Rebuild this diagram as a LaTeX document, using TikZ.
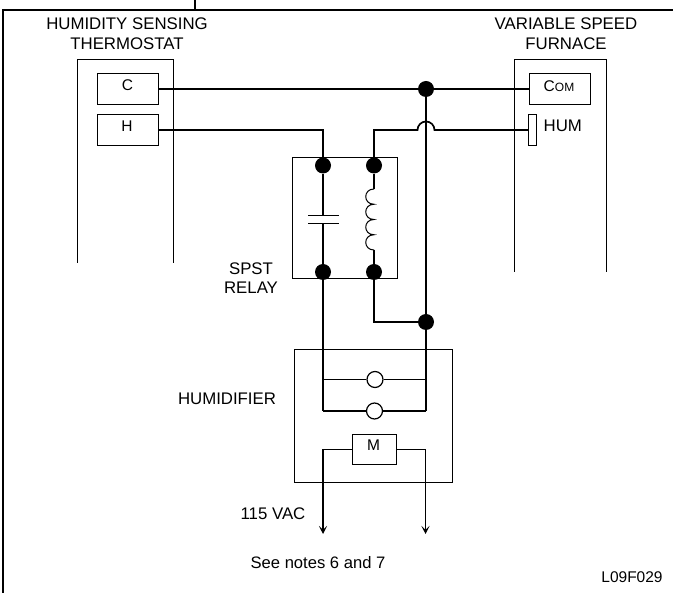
\documentclass[tikz,border=0pt]{standalone}
\usepackage{fontspec}
\setmainfont{Liberation Sans}
\usetikzlibrary{arrows.meta}

\tikzstyle{unit} = [draw, line width=1pt]
\tikzstyle{term} = [draw, rectangle, line width=1pt, inner sep=0pt, text depth=0pt]
\tikzstyle{dot} = [circle, fill=black, inner sep=0pt, minimum size=16pt]
\tikzstyle{lamp} = [circle, draw, fill=white, line width=1.2pt, inner sep=0pt, minimum size=16pt]
\tikzstyle{wire} = [draw, line width=1.7pt]
\tikzstyle{stub} = [draw, line width=1.3pt]
\tikzstyle{feed} = [draw, line width=1.5pt, -{Stealth[length=8pt, width=8pt, inset=4pt]}]
\tikzstyle{lbl} = [font=\fontsize{16.8pt}{19.7pt}\selectfont, align=center, inner sep=0pt]
\tikzstyle{small} = [font=\fontsize{15.5pt}{18pt}\selectfont, inner sep=0pt]

\begin{document}
\begin{tikzpicture}[x=1pt, y=-1pt, node distance=51pt]
    \useasboundingbox (0,0) rectangle (673,593);
    % Frame
    \draw [line width=2.6pt] (3,593) -- (3,10) -- (673,10);
    \draw [line width=1.6pt] (195,0) -- (195,10);
    % Housings
    \draw [unit] (77,263) -- (77,59.5) -- (173.5,59.5) -- (173.5,263);
    \draw [unit] (514,272) -- (514,59.5) -- (606,59.5) -- (606,272);
    \node [lbl] (stat) at (127,34) {HUMIDITY SENSING\\THERMOSTAT};
    \node [lbl] (furn) at (566,34) {VARIABLE SPEED\\FURNACE};
    % Terminals
    \node [term, minimum width=61pt, minimum height=31pt] (c) at (128,89) {};
    \node [small, anchor=center] at (127.5,85) {C};
    \node [term, minimum width=61pt, minimum height=30.5pt, below of=c, node distance=41pt] (h) {};
    \node [small, anchor=center] at (127,126) {H};
    \node [term, minimum width=61pt, minimum height=31pt] (com) at (559.5,89) {};
    \node [small, anchor=center] at (559,86) {C{\fontsize{12pt}{14pt}\selectfont OM}};
    \node [term, minimum width=7.5pt, minimum height=31pt] (hum) at (532.5,130) {};
    \node [lbl, anchor=west] (humtxt) at (543.5,125.5) {HUM};
    % Relay
    \node [draw, line width=1pt, minimum width=104.5pt, minimum height=121pt, inner sep=0pt] (relay) at (344.75,218.5) {};
    \node [dot] (r1) at (323,165.5) {};
    \node [dot, right of=r1] (r2) {};
    \node [dot, below of=r1, node distance=106.5pt] (r3) {};
    \node [dot, right of=r3] (r4) {};
    \node [lbl] (spst) at (251,278) {SPST\\RELAY};
    \coordinate (capa) at (323,216);
    \coordinate (capb) at (323,224);
    \draw [unit] (308,216) -- (339,216);
    \draw [unit] (308,224) -- (339,224);
    \draw [stub] (r1) -- (capa);
    \draw [stub] (capb) -- (r3);
    % Coil
    \coordinate (coila) at (374,189);
    \coordinate (coilb) at (374,250);
    \draw [stub] (r2) -- (coila);
    \draw [stub] (coilb) -- (r4);
    \draw [unit] (coila) \foreach \i in {1,2,3,4} { .. controls +(-11,0) and +(-11,0) .. ++(0,15.25) };
    % Junctions
    \node [dot] (top) at (426,89) {};
    \node [dot, below of=top, node distance=233pt] (low) {};
    % Humidifier
    \node [draw, line width=1pt, minimum width=158.5pt, minimum height=133pt, inner sep=0pt] (humd) at (373.25,416) {};
    \node [lbl] (humdtxt) at (227,399) {HUMIDIFIER};
    \node [lamp] (l1) at (375,379.5) {};
    \node [lamp] (l2) at (374.5,411) {};
    \node [term, minimum width=44.5pt, minimum height=30pt] (m) at (374.5,449.5) {};
    \node [small, anchor=center] at (373.5,445) {M};
    \coordinate (n1) at (323,379.5);
    \coordinate (n2) at (323,411);
    \coordinate (n3) at (426,379.5);
    \coordinate (n4) at (426,411);
    \coordinate (f1) at (323,534);
    \coordinate (f2) at (425.5,534);
    % Wires
    \draw [wire] (c.east) -- (top);
    \draw [wire] (top) -- (com.west);
    \draw [wire] (h.east) -| (r1);
    \draw [wire] (r2) |- (417.5,130) arc [start angle=180, end angle=0, radius=8.5pt] -- (hum.west);
    \draw [wire] (r3) -- (n2);
    \draw [wire] (n2) -- (l2) -- (n4);
    \draw [wire] (n1) -- (l1) -- (n3);
    \draw [wire] (top) -- (n4);
    \draw [wire] (r4) |- (low);
    \draw [feed] (m.west) -| (f1);
    \draw [feed] (m.east) -| (f2);
    \node [lbl] (vac) at (273,514) {115 VAC};
    \node [lbl, font=\fontsize{16.6pt}{18pt}\selectfont] (notes) at (318,563) {See notes 6 and 7};
    \node [small] (code) at (632,577) {L09F029};
\end{tikzpicture}
\end{document}
